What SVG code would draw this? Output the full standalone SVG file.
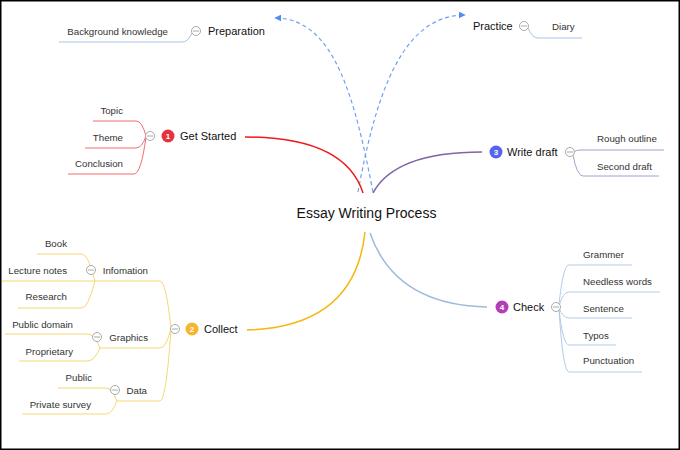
<svg xmlns="http://www.w3.org/2000/svg" width="680" height="450" viewBox="0 0 680 450">
<defs>
<style>
text{font-family:"Liberation Sans",Arial,sans-serif}
.main{font-size:11px;fill:#111}
.sub{font-size:9.7px;fill:#333}
.end{text-anchor:end}
.badge{font-size:8px;font-weight:bold;fill:#fff;text-anchor:middle}
.col circle{fill:#fff;stroke:#aaa;stroke-width:1}
.col line{stroke:#aaa;stroke-width:1}
.c{fill:none;stroke-width:1.5}
.s{fill:none;stroke-width:1}
.dash{fill:none;stroke:#6f9ff2;stroke-width:1.2;stroke-dasharray:4 3;marker-end:url(#arr)}
</style>
<marker id="arr" viewBox="0 0 10 10" refX="9" refY="5" markerWidth="7" markerHeight="7" orient="auto" markerUnits="userSpaceOnUse">
<path d="M0,0 L10,5 L0,10 z" fill="#4d8ef0"/>
</marker>
</defs>
<rect x="0.75" y="0.75" width="678.5" height="448.5" fill="#fff" stroke="#000" stroke-width="1.5"/>

<g id="connectors">
<path class="dash" d="M358,192 C375,100 400,15 465,15"/>
<path class="dash" d="M373,192 C355,100 335,18 275,18"/>
<path class="c" stroke="#f01a1a" d="M363,193 Q345,137 245,137"/>
<path class="c" stroke="#8065a8" d="M373,193 Q395,152 482,152"/>
<path class="c" stroke="#f5b70f" d="M365,232 Q355,327 247,330"/>
<path class="c" stroke="#a0badc" d="M370,233 Q395,305 487,307"/>
<path class="s" stroke="#a7c3e6" d="M192,33 Q188,42 182,42 H59"/>
<path class="s" stroke="#a7c3e6" d="M528,28 Q532,38 538,38 H582"/>
<path class="s" stroke="#f26d6d" d="M146,136 Q142,121 136,121 H93"/>
<path class="s" stroke="#f26d6d" d="M146,136 Q142,148 136,148 H85"/>
<path class="s" stroke="#f26d6d" d="M146,137 Q141,174 134,174 H68"/>
<path class="s" stroke="#ad9ccb" d="M574,152 Q576,150 580,150 H664"/>
<path class="s" stroke="#ad9ccb" d="M573,155 Q577,176 583,176 H659"/>
<path class="s" stroke="#b3cbe8" d="M559,305 Q563,265 569,265 H632"/>
<path class="s" stroke="#b3cbe8" d="M559,306 Q563,292 569,292 H660"/>
<path class="s" stroke="#b3cbe8" d="M559,308 Q563,318 569,318 H632"/>
<path class="s" stroke="#b3cbe8" d="M559,309 Q563,345 569,345 H616"/>
<path class="s" stroke="#b3cbe8" d="M559,310 Q563,372 569,372 H642"/>
<path class="s" stroke="#f9d774" d="M171,328 Q166,281 160,281 H95"/>
<path class="s" stroke="#f9d774" d="M171,329 Q166,348 160,348 H100"/>
<path class="s" stroke="#f9d774" d="M171,330 Q166,401 160,401 H117"/>
<path class="s" stroke="#f9d774" d="M95,281 Q88,254 82,254 H37"/>
<path class="s" stroke="#f9d774" d="M95,281 H2"/>
<path class="s" stroke="#f9d774" d="M95,281 Q88,308 82,308 H18"/>
<path class="s" stroke="#f9d774" d="M100,348 Q94,334 88,334 H5"/>
<path class="s" stroke="#f9d774" d="M100,348 Q94,361 88,361 H19"/>
<path class="s" stroke="#f9d774" d="M117,401 Q112,388 106,388 H58"/>
<path class="s" stroke="#f9d774" d="M117,401 Q112,414 106,414 H22"/>
</g>

<g id="center"><text x="366.5" y="218" font-size="14" text-anchor="middle" fill="#111">Essay Writing Process</text></g>

<g id="preparation">
<g class="col"><circle cx="196" cy="31" r="4.5"/><line x1="193" y1="31" x2="199" y2="31"/></g>
<text class="main" x="208" y="34.5">Preparation</text>
</g>
<g id="background-knowledge"><text class="sub end" x="168" y="35">Background knowledge</text></g>

<g id="practice">
<text class="main" x="473" y="30">Practice</text>
<g class="col"><circle cx="524" cy="26" r="4.5"/><line x1="521" y1="26" x2="527" y2="26"/></g>
</g>
<g id="diary"><text class="sub" x="552" y="30">Diary</text></g>

<g id="get-started">
<g class="col"><circle cx="150" cy="136" r="4.5"/><line x1="147" y1="136" x2="153" y2="136"/></g>
<circle cx="168" cy="136" r="6.5" fill="#e5323f"/>
<text class="badge" x="168" y="139">1</text>
<text class="main" x="180" y="140">Get Started</text>
</g>
<g id="topic"><text class="sub end" x="123" y="114">Topic</text></g>
<g id="theme"><text class="sub end" x="123" y="140.5">Theme</text></g>
<g id="conclusion"><text class="sub end" x="123" y="167">Conclusion</text></g>

<g id="write-draft">
<circle cx="496" cy="152" r="6.5" fill="#5464f0"/>
<text class="badge" x="496" y="155">3</text>
<text class="main" x="507" y="156">Write draft</text>
<g class="col"><circle cx="570" cy="152" r="4.5"/><line x1="567" y1="152" x2="573" y2="152"/></g>
</g>
<g id="rough-outline"><text class="sub" x="597" y="142">Rough outline</text></g>
<g id="second-draft"><text class="sub" x="597" y="169.5">Second draft</text></g>

<g id="collect">
<g class="col"><circle cx="175" cy="329" r="4.5"/><line x1="172" y1="329" x2="178" y2="329"/></g>
<circle cx="192" cy="329" r="6.5" fill="#f5b52e"/>
<text class="badge" x="192" y="332">2</text>
<text class="main" x="204" y="333">Collect</text>
</g>
<g id="infomation">
<g class="col"><circle cx="91" cy="270" r="4.5"/><line x1="88" y1="270" x2="94" y2="270"/></g>
<text class="sub end" x="148" y="274">Infomation</text>
</g>
<g id="book"><text class="sub end" x="67" y="247">Book</text></g>
<g id="lecture-notes"><text class="sub end" x="67" y="274">Lecture notes</text></g>
<g id="research"><text class="sub end" x="67" y="300">Research</text></g>
<g id="graphics">
<g class="col"><circle cx="97" cy="337" r="4.5"/><line x1="94" y1="337" x2="100" y2="337"/></g>
<text class="sub end" x="148" y="341">Graphics</text>
</g>
<g id="public-domain"><text class="sub end" x="73" y="327.5">Public domain</text></g>
<g id="proprietary"><text class="sub end" x="73" y="354.5">Proprietary</text></g>
<g id="data">
<g class="col"><circle cx="115" cy="390" r="4.5"/><line x1="112" y1="390" x2="118" y2="390"/></g>
<text class="sub end" x="147" y="394">Data</text>
</g>
<g id="public"><text class="sub end" x="92" y="380.5">Public</text></g>
<g id="private-survey"><text class="sub end" x="91" y="407.5">Private survey</text></g>

<g id="check">
<circle cx="502" cy="307" r="6.5" fill="#b23fb8"/>
<text class="badge" x="502" y="310">4</text>
<text class="main" x="513" y="311">Check</text>
<g class="col"><circle cx="556" cy="307" r="4.5"/><line x1="553" y1="307" x2="559" y2="307"/></g>
</g>
<g id="grammer"><text class="sub" x="583" y="258">Grammer</text></g>
<g id="needless-words"><text class="sub" x="583" y="285">Needless words</text></g>
<g id="sentence"><text class="sub" x="583" y="311.5">Sentence</text></g>
<g id="typos"><text class="sub" x="583" y="338.5">Typos</text></g>
<g id="punctuation"><text class="sub" x="583" y="364">Punctuation</text></g>
</svg>
